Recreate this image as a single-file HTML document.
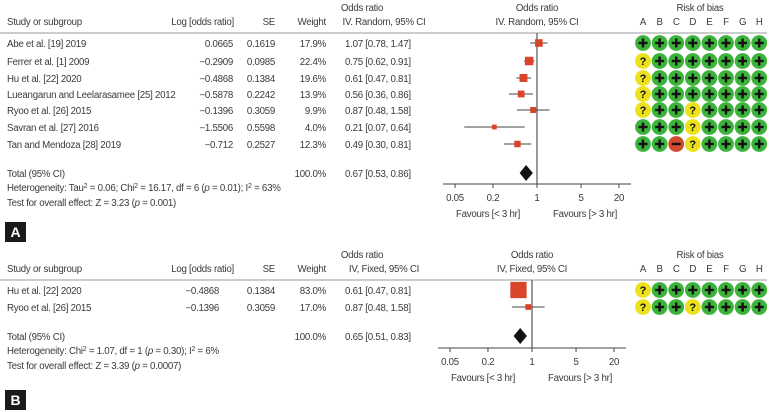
<!DOCTYPE html>
<html><head><meta charset="utf-8"><style>
html,body{margin:0;padding:0;background:#fff;}
svg{display:block;font-family:"Liberation Sans",sans-serif;}
text{fill:#3a3a3a;font-size:9.7px;letter-spacing:-0.25px;}
</style></head><body>
<svg id="chart" width="774" height="412" viewBox="0 0 774 412"></svg>
<script>
// Panel A data
const studiesA = ["Abe et al. [19] 2019","Ferrer et al. [1] 2009","Hu et al. [22] 2020","Lueangarun and Leelarasamee [25] 2012","Ryoo et al. [26] 2015","Savran et al. [27] 2016","Tan and Mendoza [28] 2019"];
const logOrA = ["0.0665","\u22120.2909","\u22120.4868","\u22120.5878","\u22120.1396","\u22121.5506","\u22120.712"];
const seA = ["0.1619","0.0985","0.1384","0.2242","0.3059","0.5598","0.2527"];
const weightA = [17.9,22.4,19.6,13.9,9.9,4.0,12.3];
const orA = [1.07,0.75,0.61,0.56,0.87,0.21,0.49];
const loA = [0.78,0.62,0.47,0.36,0.48,0.07,0.30];
const hiA = [1.47,0.91,0.81,0.86,1.58,0.64,0.81];
const totalA = [0.67,0.53,0.86];
const biasA = ["++++++++","?+++++++","?+++++++","?+++++++","?++?++++","+++?++++","++-?++++"];
// Panel B data
const studiesB = ["Hu et al. [22] 2020","Ryoo et al. [26] 2015"];
const logOrB = ["\u22120.4868","\u22120.1396"];
const seB = ["0.1384","0.3059"];
const weightB = [83.0,17.0];
const orB = [0.61,0.87];
const loB = [0.47,0.48];
const hiB = [0.81,1.58];
const totalB = [0.65,0.51,0.83];
const biasB = ["?+++++++","?++?++++"];
const tickVals = [0.05,0.2,1,5,20];
const tickLabels = ["0.05","0.2","1","5","20"];
const biasLetters = ["A","B","C","D","E","F","G","H"];

const svg = document.getElementById('chart');
const NS = "http://www.w3.org/2000/svg";
function mk(tag, attrs, parent){const e=document.createElementNS(NS,tag);for(const k in attrs)e.setAttribute(k,attrs[k]);(parent||svg).appendChild(e);return e;}
function txt(x,y,s,anchor,parent){const t=mk('text',{x:x,y:y,'text-anchor':anchor||'start'},parent);t.textContent=s;return t;}
function fmt(v){return v.toFixed(2);}

function panel(cfg){
  const g = mk('g',{});
  
  
  const xs = v => cfg.x1 + 63*Math.log10(v);
  const yh = cfg.hy;
  let h;
  h=txt(7,yh+14,"Study or subgroup",'start',g);
  
  h=txt(234,yh+14,"Log [odds ratio]",'end',g);
  
  h=txt(275,yh+14,"SE",'end',g);
  
  h=txt(326,yh+14,"Weight",'end',g);
  
  txt(362,yh,"Odds ratio",'middle',g);
  h=txt(384,yh+14,cfg.method,'middle',g);
  
  txt(xs(1),yh,"Odds ratio",'middle',g);
  h=txt(xs(1),yh+14,cfg.method,'middle',g);
  
  h=txt(700,yh,"Risk of bias",'middle',g);
  
  biasLetters.forEach((L,i)=>{const t=txt(643+16.6*i,yh+14,L,'middle',g);
    });
  const hl=mk('line',{x1:0,x2:767,y1:yh+22,y2:yh+22,stroke:'#999','stroke-width':1},g);
  
  const vl=mk('line',{x1:xs(1),x2:xs(1),y1:yh+22,y2:cfg.axisY,stroke:'#555','stroke-width':1.2},g);
  
  cfg.studies.forEach((s,i)=>{
    const y = cfg.rowY[i];
    const rg = mk('g',{},g);
    
    
    txt(7,y+4,s,'start',rg);
    txt(cfg.logX,y+4,cfg.logOr[i],'end',rg);
    txt(275,y+4,cfg.se[i],'end',rg);
    txt(326,y+4,cfg.weight[i].toFixed(1)+"%",'end',rg);
    txt(345,y+4,fmt(cfg.or[i])+" ["+fmt(cfg.lo[i])+", "+fmt(cfg.hi[i])+"]",'start',rg);
    const w = mk('line',{x1:xs(cfg.lo[i]),x2:xs(cfg.hi[i]),y1:y,y2:y,stroke:'#444','stroke-width':1},rg);
    
    
    const sz = cfg.sq(cfg.weight[i]);
    const sq = mk('rect',{x:xs(cfg.or[i])-sz/2,y:y-sz/2,width:sz,height:sz,fill:'#d9442b'},rg);
    
    
    cfg.bias[i].split('').forEach((c,j)=>{
      const cx=643+16.6*j;
      const col = c==='+'?'#3cb43c':(c==='?'?'#ece21c':'#d44a2e');
      const ci=mk('circle',{cx:cx,cy:y,r:7.9,fill:col},rg);
      
      
      if(c==='+'){mk('rect',{x:cx-4.5,y:y-1.2,width:9,height:2.4,fill:'#111'},rg);mk('rect',{x:cx-1.2,y:y-4.5,width:2.4,height:9,fill:'#111'},rg);}
      else if(c==='-'){mk('rect',{x:cx-4.5,y:y-1.2,width:9,height:2.4,fill:'#111'},rg);}
      else{const q=mk('text',{x:cx,y:y+4,'text-anchor':'middle','font-weight':'bold'},rg);q.style.fill='#111';q.style.fontSize='11px';q.style.letterSpacing='0';q.textContent='?';}
    });
  });
  const ty=cfg.totalY;
  txt(7,ty+4,"Total (95% CI)",'start',g);
  txt(326,ty+4,"100.0%",'end',g);
  txt(345,ty+4,fmt(cfg.total[0])+" ["+fmt(cfg.total[1])+", "+fmt(cfg.total[2])+"]",'start',g);
  const d=mk('polygon',{points:`${xs(cfg.total[1])},${ty} ${xs(cfg.total[0])},${ty-8} ${xs(cfg.total[2])},${ty} ${xs(cfg.total[0])},${ty+8}`,fill:'#111'},g);
  
  
  const het=txt(7,ty+18,"",'start',g);
  het.innerHTML=cfg.het;
  
  const ov=txt(7,ty+33,"",'start',g);
  ov.innerHTML=cfg.test;
  
  const ax=mk('line',{x1:cfg.ax0,x2:cfg.ax1,y1:cfg.axisY,y2:cfg.axisY,stroke:'#444','stroke-width':1},g);
  
  tickVals.forEach((v,i)=>{
    mk('line',{x1:xs(v),x2:xs(v),y1:cfg.axisY,y2:cfg.axisY+4,stroke:'#444'},g);
    const t=txt(xs(v),cfg.axisY+17,tickLabels[i],'middle',g);
    
  });
  let f=txt(xs(1)-49,cfg.axisY+33,"Favours [< 3 hr]",'middle',g);
  
  f=txt(xs(1)+48,cfg.axisY+33,"Favours [> 3 hr]",'middle',g);
  
  const lb=mk('rect',{x:5,y:cfg.labY,width:21,height:20,fill:'#1a1a1a'},g);
  
  const lt=mk('text',{x:15.5,y:cfg.labY+15,'text-anchor':'middle','font-weight':'bold'},g);
  lt.style.fill='#fff';lt.style.fontSize='14px';lt.style.letterSpacing='0';lt.textContent=cfg.label;
  
}

panel({name:'panel-a',label:'A',method:'IV. Random, 95% CI',hy:11,x1:537,ax0:443,ax1:631,axisY:184,
  studies:studiesA,logOr:logOrA,se:seA,weight:weightA,or:orA,lo:loA,hi:hiA,bias:biasA,total:totalA,
  rowY:[43,61,78,94,110,127,144],logX:233,totalY:173,labY:222,
  sq:w=>4+w*0.2,
  het:'Heterogeneity: Tau<tspan baseline-shift="super" font-size="7">2</tspan> = 0.06; Chi<tspan baseline-shift="super" font-size="7">2</tspan> = 16.17, df = 6 (<tspan font-style="italic">p</tspan> = 0.01); I<tspan baseline-shift="super" font-size="7">2</tspan> = 63%',
  test:'Test for overall effect: Z = 3.23 (<tspan font-style="italic">p</tspan> = 0.001)'});
panel({name:'panel-b',label:'B',method:'IV, Fixed, 95% CI',hy:258,x1:532,ax0:438,ax1:626,axisY:348,
  studies:studiesB,logOr:logOrB,se:seB,weight:weightB,or:orB,lo:loB,hi:hiB,bias:biasB,total:totalB,
  rowY:[290,307],logX:219,totalY:336,labY:390,
  sq:w=>3+w*0.16,
  het:'Heterogeneity: Chi<tspan baseline-shift="super" font-size="7">2</tspan> = 1.07, df = 1 (<tspan font-style="italic">p</tspan> = 0.30); I<tspan baseline-shift="super" font-size="7">2</tspan> = 6%',
  test:'Test for overall effect: Z = 3.39 (<tspan font-style="italic">p</tspan> = 0.0007)'});
</script>
</body></html>
